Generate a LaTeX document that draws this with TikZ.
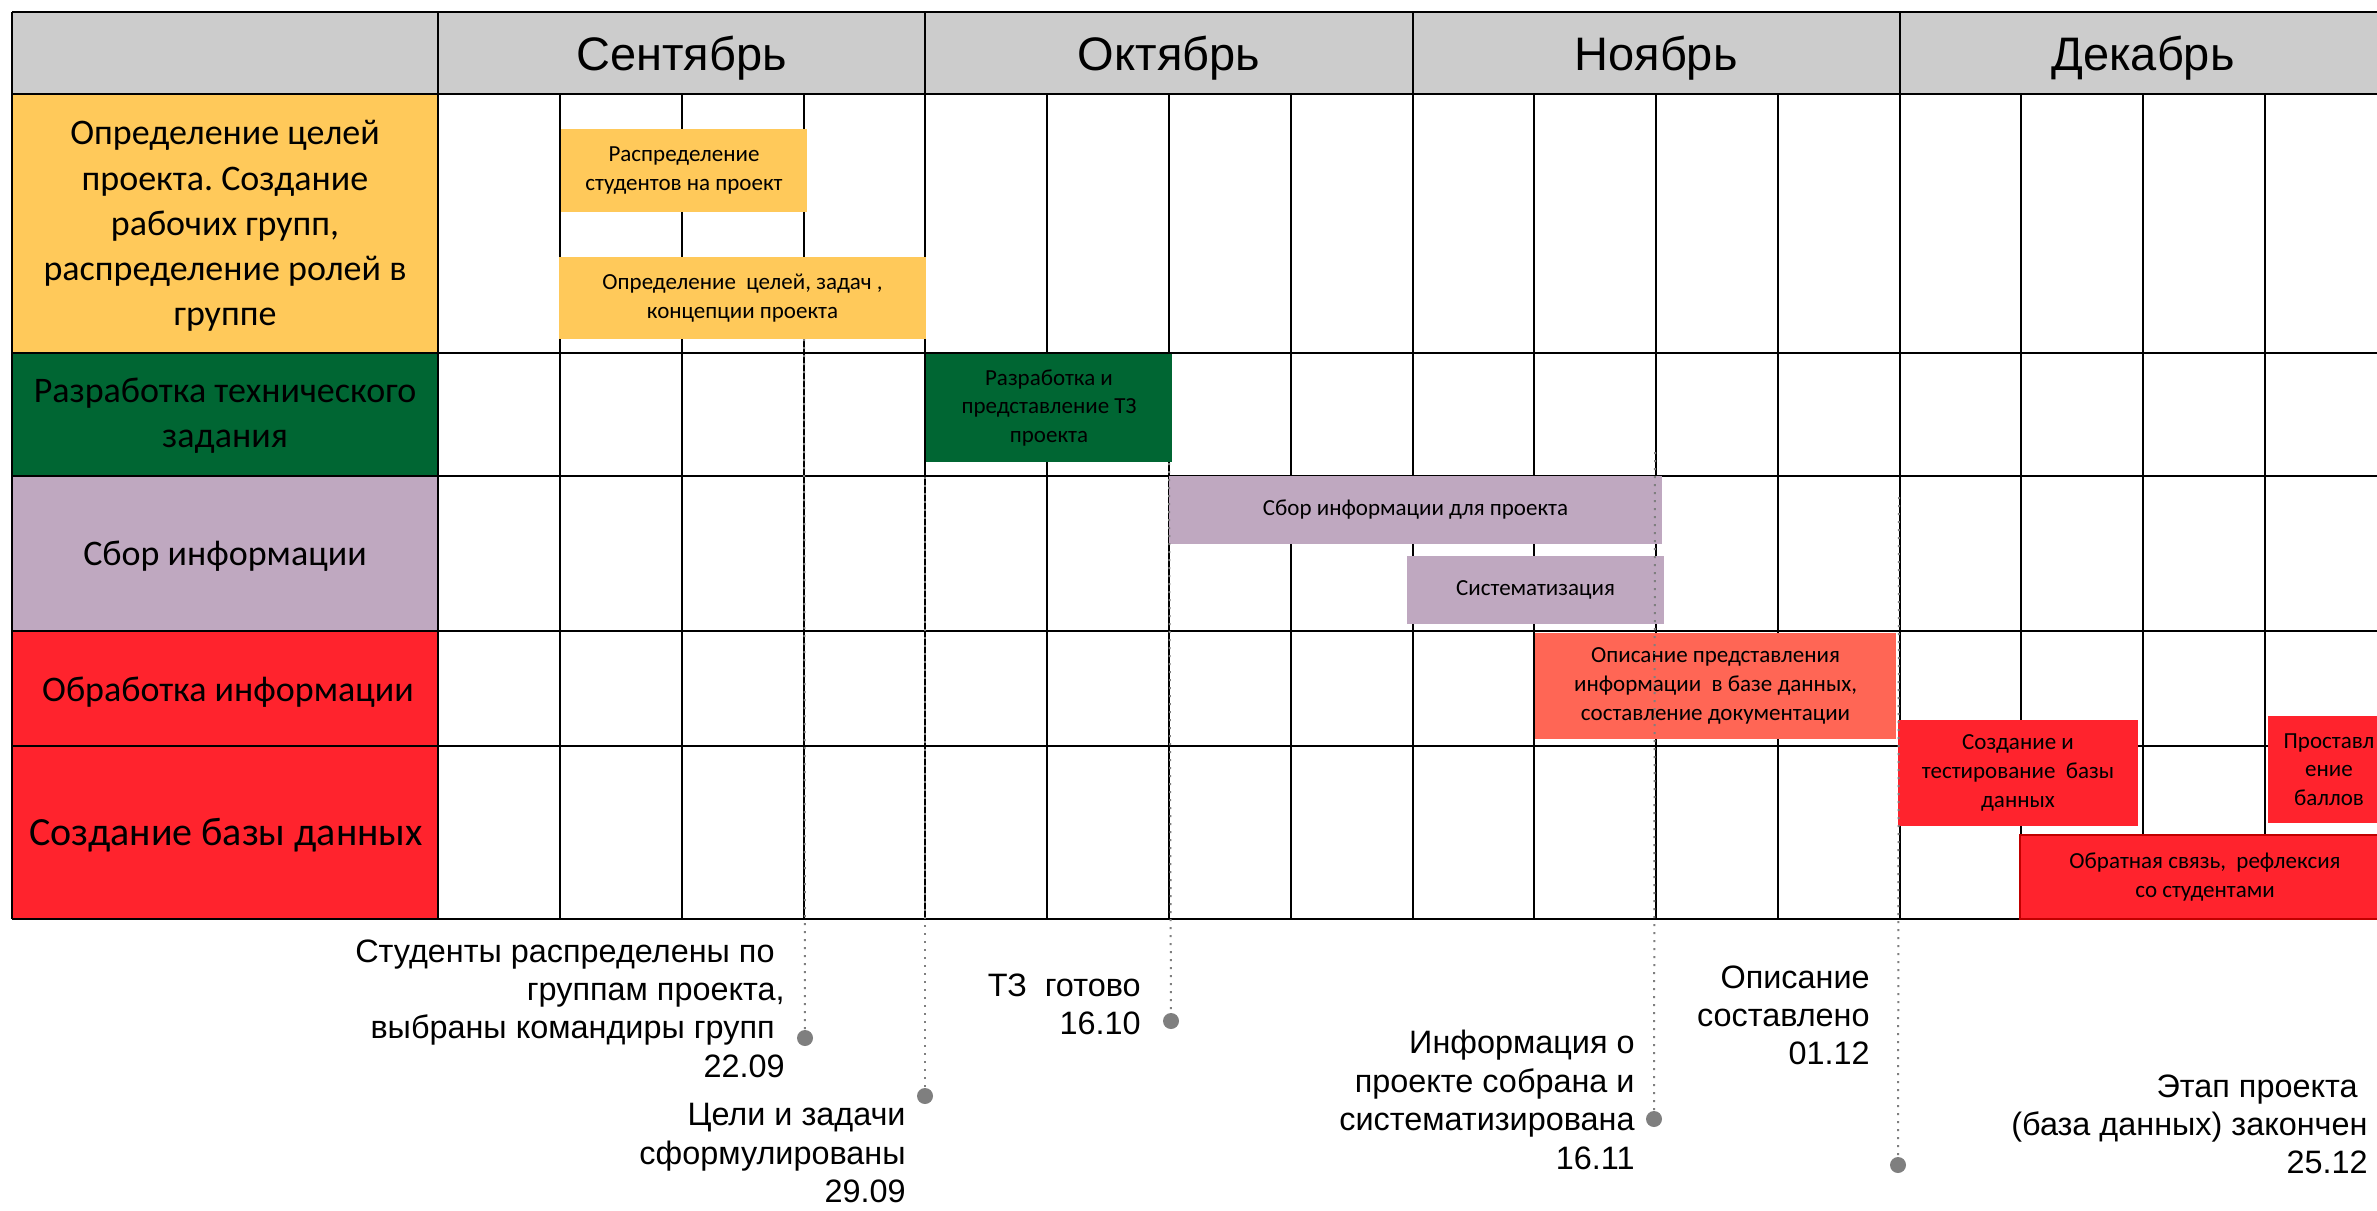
\documentclass[tikz,border=0pt]{standalone}
\usepackage{fontspec}
\setmainfont{Carlito}
\newfontfamily\arialfont{Liberation Sans}
\frenchspacing
\definecolor{headgray}{HTML}{CCCCCC}
\definecolor{goalyellow}{HTML}{FFC95A}
\definecolor{tzgreen}{HTML}{006633}
\definecolor{infolilac}{HTML}{BFA8C0}
\definecolor{procred}{HTML}{FF232D}
\definecolor{descsalmon}{HTML}{FF6655}
\definecolor{edgered}{HTML}{C00000}
\definecolor{dotgray}{HTML}{7F7F7F}

\begin{document}
\begin{tikzpicture}[x=0.5pt,y=0.5pt]
\tikzstyle{every node}+=[inner sep=0pt]
\tikzstyle{gridline}=[black,line width=1.4pt]
\tikzstyle{monthlabel}=[anchor=base,font=\arialfont\fontsize{23.5}{28}\selectfont]
\tikzstyle{rowlabel}=[align=center,font=\fontsize{18}{22.6}\selectfont]
\tikzstyle{taskbox}=[align=center,font=\fontsize{11.5}{14.4}\selectfont]
\tikzstyle{milestone}=[align=right,anchor=north east,font=\arialfont\fontsize{16.2}{19.2}\selectfont]
\tikzstyle{mdot}=[circle,fill=dotgray,minimum size=8pt]
\tikzstyle{mline}=[dotgray,line width=1pt,dash pattern=on 1pt off 3pt]
\useasboundingbox (0,0) rectangle (2377,-1210);
\clip (0,0) rectangle (2377,-1210);
\fill [headgray] (12,-12) rectangle (2387,-94);
\fill [goalyellow] (12,-94) rectangle (438,-353);
\fill [tzgreen] (12,-353) rectangle (438,-476);
\fill [infolilac] (12,-476) rectangle (438,-631);
\fill [procred] (12,-631) rectangle (438,-746);
\fill [procred] (12,-746) rectangle (438,-919);
\draw [gridline] (12,-12) -- (2387,-12);
\draw [gridline] (12,-94) -- (2387,-94);
\draw [gridline] (12,-353) -- (2387,-353);
\draw [gridline] (12,-476) -- (2387,-476);
\draw [gridline] (12,-631) -- (2387,-631);
\draw [gridline] (12,-746) -- (2387,-746);
\draw [gridline] (12,-919) -- (2387,-919);
\draw [gridline] (12,-12) -- (12,-919);
\draw [gridline] (438,-12) -- (438,-919);
\draw [gridline] (925,-12) -- (925,-919);
\draw [gridline] (1413,-12) -- (1413,-919);
\draw [gridline] (1900,-12) -- (1900,-919);
\draw [gridline] (2387,-12) -- (2387,-919);
\draw [gridline] (560,-94) -- (560,-919);
\draw [gridline] (682,-94) -- (682,-919);
\draw [gridline] (804,-94) -- (804,-919);
\draw [gridline] (1047,-94) -- (1047,-919);
\draw [gridline] (1169,-94) -- (1169,-919);
\draw [gridline] (1291,-94) -- (1291,-919);
\draw [gridline] (1534,-94) -- (1534,-919);
\draw [gridline] (1656,-94) -- (1656,-919);
\draw [gridline] (1778,-94) -- (1778,-919);
\draw [gridline] (2021,-94) -- (2021,-919);
\draw [gridline] (2143,-94) -- (2143,-919);
\draw [gridline] (2265,-94) -- (2265,-919);
\node [monthlabel] (sep) at (681.5,-70) {Сентябрь};
\node [monthlabel] (oct) at (1169,-70) {Октябрь};
\node [monthlabel] (nov) at (1656,-70) {Ноябрь};
\node [monthlabel] (dec) at (2143,-70) {Декабрь};
\node [rowlabel] (goals) at (225,-226) {Определение целей\\проекта. Создание\\рабочих групп,\\распределение ролей в\\группе};
\node [rowlabel] (tz) at (225,-416) {Разработка технического\\задания};
\node [rowlabel,anchor=base] (collect) at (225,-565) {Сбор информации};
\node [rowlabel,anchor=base] (process) at (228,-701) {Обработка информации};
\node [rowlabel,anchor=base,font=\fontsize{20}{24}\selectfont] (dbase) at (226,-845) {Создание базы данных};
\node [taskbox,fill=goalyellow,minimum width=123pt,minimum height=41.5pt] (distr) at (684,-170.5) {Распределение\\студентов на проект};
\node [taskbox,fill=goalyellow,minimum width=183.5pt,minimum height=41pt] (concept) at (742.5,-298) {Определение\ \ целей, задач ,\\концепции проекта};
\node [taskbox,fill=tzgreen,minimum width=123pt,minimum height=54pt] (tzdev) at (1049,-408) {Разработка и\\представление ТЗ\\проекта};
\node [taskbox,fill=infolilac,minimum width=246.5pt,minimum height=34pt] (gather) at (1415.5,-510) {Сбор информации для проекта};
\node [taskbox,fill=infolilac,minimum width=128.5pt,minimum height=34pt] (system) at (1535.5,-590) {Систематизация};
\node [taskbox,fill=descsalmon,minimum width=180.5pt,minimum height=53pt] (descr) at (1715.5,-686) {Описание представления\\информации\ \ в базе данных,\\составление документации};
\node [taskbox,fill=procred,minimum width=120pt,minimum height=53pt] (dbtest) at (2018,-773) {Создание и\\тестирование\ \ базы\\данных};
\node [taskbox,fill=procred,minimum width=61pt,minimum height=53.5pt] (marks) at (2329,-769.5) {Проставл\\ение\\баллов};
\node [taskbox,fill=procred,draw=edgered,line width=0.8pt,minimum width=185pt,minimum height=42pt] (feedback) at (2205,-877) {Обратная связь,\ \ рефлексия\\со студентами};
\coordinate (top1) at (804,-339);
\coordinate (top2) at (925,-477);
\coordinate (top3) at (1169,-463);
\coordinate (top4) at (1655,-452);
\coordinate (top5) at (1899,-497);
\node [mdot] (dot1) at (805,-1038) {};
\node [mdot] (dot2) at (925,-1096) {};
\node [mdot] (dot3) at (1171,-1021) {};
\node [mdot] (dot4) at (1654,-1119) {};
\node [mdot] (dot5) at (1898,-1165) {};
\draw [mline] (top1) -- (dot1);
\draw [mline] (top2) -- (dot2);
\draw [mline] (top3) -- (dot3);
\draw [mline] (top4) -- (dot4);
\draw [mline] (top5) -- (dot5);
\node [milestone] (ms1) at (785,-939) {Студенты распределены по\kern5pt\\группам проекта,\\выбраны командиры групп\kern5pt\\22.09};
\node [milestone] (ms2) at (906,-1103) {Цели и задачи\\сформулированы\\29.09};
\node [milestone] (ms3) at (1141,-973) {ТЗ\ \ готово\\16.10};
\node [milestone] (ms4) at (1635,-1030) {Информация о\\проекте собрана и\\систематизирована\\16.11};
\node [milestone] (ms5) at (1870,-965) {Описание\\составлено\\01.12};
\node [milestone] (ms6) at (2368,-1074) {Этап проекта\kern5pt\\(база данных) закончен\\25.12};
\end{tikzpicture}
\end{document}
